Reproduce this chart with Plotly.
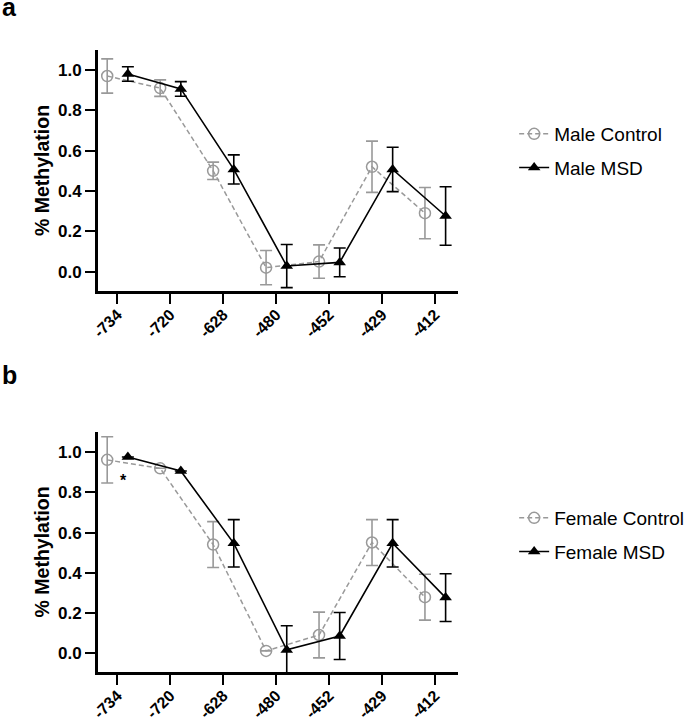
import plotly.graph_objects as go

# ---- data ----
positions = ["-734", "-720", "-628", "-480", "-452", "-429", "-412"]

male_control = [0.97, 0.91, 0.50, 0.02, 0.05, 0.52, 0.29]
male_control_err = [0.085, 0.041, 0.043, 0.085, 0.083, 0.127, 0.127]
male_msd = [0.98, 0.906, 0.507, 0.028, 0.046, 0.507, 0.276]
male_msd_err = [0.036, 0.036, 0.072, 0.107, 0.071, 0.11, 0.145]

female_control = [0.962, 0.92, 0.541, 0.012, 0.091, 0.551, 0.279]
female_control_err = [0.115, 0.0, 0.114, 0.0, 0.114, 0.114, 0.114]
female_msd = [0.976, 0.907, 0.547, 0.017, 0.086, 0.547, 0.277]
female_msd_err = [0.0, 0.0, 0.118, 0.12, 0.117, 0.118, 0.119]

GRAY = "#999999"
BLACK = "#000000"
FONT = "Liberation Sans"

idx = list(range(len(positions)))
x_ctrl = [i - 0.19 for i in idx]
x_msd = [i + 0.2 for i in idx]

fig = go.Figure()

def add_pair(ctrl, ctrl_err, msd, msd_err, names, xa, ya, legend):
    fig.add_trace(go.Scatter(
        x=x_ctrl, y=ctrl, name=names[0], mode="lines+markers",
        xaxis=xa, yaxis=ya, legend=legend, legendgroup=names[0],
        line=dict(color=GRAY, width=1.5, dash="5px,3px"),
        marker=dict(symbol="circle-open", size=11, color=GRAY, line=dict(width=1.5, color=GRAY)),
        error_y=dict(type="data", array=ctrl_err, visible=True, color=GRAY, thickness=1.6, width=6),
    ))
    fig.add_trace(go.Scatter(
        x=x_msd, y=msd, name=names[1], mode="lines+markers",
        xaxis=xa, yaxis=ya, legend=legend, legendgroup=names[1],
        line=dict(color=BLACK, width=1.6),
        marker=dict(symbol="triangle-up", size=11, color=BLACK),
        error_y=dict(type="data", array=msd_err, visible=True, color=BLACK, thickness=1.6, width=6),
    ))

add_pair(male_control, male_control_err, male_msd, male_msd_err,
         ["Male Control", "Male MSD"], "x", "y", "legend")
add_pair(female_control, female_control_err, female_msd, female_msd_err,
         ["Female Control", "Female MSD"], "x2", "y2", "legend2")

xaxis_common = dict(
    range=[-0.364, 6.434], tickmode="array", tickvals=idx, ticktext=positions,
    tickangle=-45, ticks="outside", ticklen=10, tickwidth=2, tickcolor=BLACK,
    showline=True, linewidth=3, linecolor=BLACK, showgrid=False, zeroline=False,
    automargin=False, ticklabelstandoff=-5,
    tickfont=dict(family=FONT, size=16, color=BLACK, weight="bold"),
)
yaxis_common = dict(
    tickmode="array", tickvals=[0, 0.2, 0.4, 0.6, 0.8, 1.0],
    tickformat=".1f", ticks="outside", ticklen=10, tickwidth=2, tickcolor=BLACK,
    showline=True, linewidth=3, linecolor=BLACK, showgrid=False, zeroline=False,
    automargin=False,
    tickfont=dict(family=FONT, size=17, color=BLACK, weight="bold"),
    title=dict(text="% Methylation", standoff=4,
               font=dict(family=FONT, size=19.5, color=BLACK, weight="bold")),
)

legend_common = dict(
    font=dict(family=FONT, size=19, color=BLACK),
    bgcolor="rgba(0,0,0,0)", tracegroupgap=6, xanchor="left", yanchor="middle",
    itemwidth=30,
)

fig.update_layout(
    template="none",
    width=685, height=718,
    margin=dict(l=98, r=227, t=50, b=46, autoexpand=False),
    paper_bgcolor="white", plot_bgcolor="white",
    xaxis=dict(domain=[0, 1], anchor="y", **xaxis_common),
    yaxis=dict(domain=[0.6125, 1.0], anchor="x", range=[-0.096, 1.099], **yaxis_common),
    xaxis2=dict(domain=[0, 1], anchor="y2", **xaxis_common),
    yaxis2=dict(domain=[0.0, 0.3863], anchor="x2", range=[-0.093, 1.102], **yaxis_common),
    legend=dict(x=1.156, y=0.8376, **legend_common),
    legend2=dict(x=1.156, y=0.2203, **legend_common),
    annotations=[
        dict(text="a", xref="paper", yref="paper", x=-0.272, y=1.08, yshift=9,
             xanchor="left", yanchor="top", showarrow=False,
             font=dict(family=FONT, size=25, color=BLACK, weight="bold")),
        dict(text="b", xref="paper", yref="paper", x=-0.272, y=0.503,
             xanchor="left", yanchor="top", showarrow=False,
             font=dict(family=FONT, size=25, color=BLACK, weight="bold")),
        dict(text="*", xref="x2", yref="y2", x=0.11, y=0.86,
             xanchor="center", yanchor="middle", showarrow=False,
             font=dict(family=FONT, size=16, color=BLACK, weight="bold")),
    ],
)

fig.write_html(
    "out.html",
    config={"displayModeBar": False},
    post_script="document.body.style.margin='0';document.body.style.overflow='hidden';",
)
